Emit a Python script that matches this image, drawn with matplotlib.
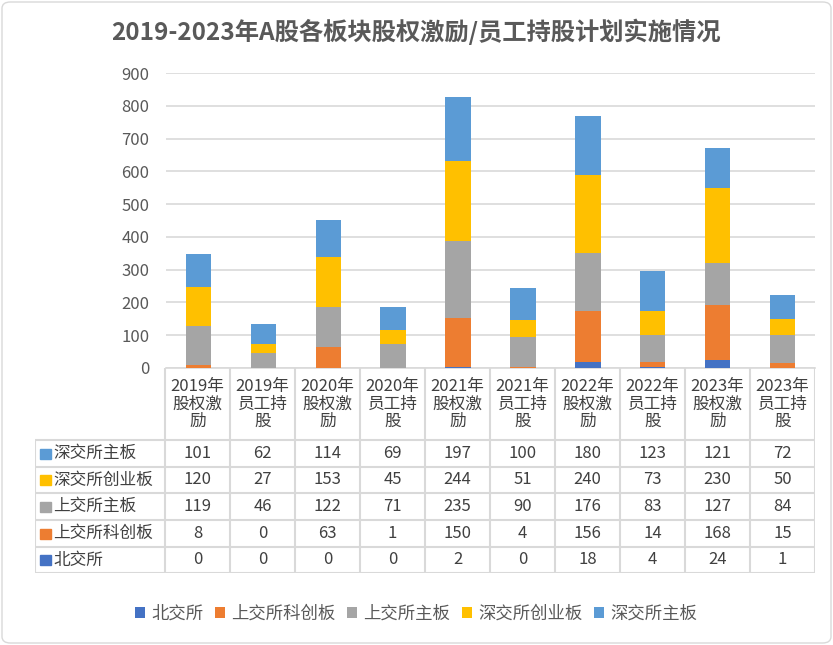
import matplotlib
matplotlib.use("Agg")
import matplotlib.pyplot as plt
from matplotlib.patches import Rectangle, FancyBboxPatch
import numpy as np

plt.rcParams['font.family'] = ['Noto Sans CJK SC', 'DejaVu Sans']

categories = ["2019年\n股权激\n励", "2019年\n员工持\n股", "2020年\n股权激\n励", "2020年\n员工持\n股",
              "2021年\n股权激\n励", "2021年\n员工持\n股", "2022年\n股权激\n励", "2022年\n员工持\n股",
              "2023年\n股权激\n励", "2023年\n员工持\n股"]
bjs = [0, 0, 0, 0, 2, 0, 18, 4, 24, 1]
sh_kcb = [8, 0, 63, 1, 150, 4, 156, 14, 168, 15]
sh_main = [119, 46, 122, 71, 235, 90, 176, 83, 127, 84]
sz_cyb = [120, 27, 153, 45, 244, 51, 240, 73, 230, 50]
sz_main = [101, 62, 114, 69, 197, 100, 180, 123, 121, 72]

series_names = ["北交所", "上交所科创板", "上交所主板", "深交所创业板", "深交所主板"]
series_vals = [bjs, sh_kcb, sh_main, sz_cyb, sz_main]
colors = ["#4472C4", "#ED7D31", "#A5A5A5", "#FFC000", "#5B9BD5"]

W, H = 833, 645
fig = plt.figure(figsize=(W / 100, H / 100), dpi=100)

def fx(px):
    return px / W

def fy(py):
    return 1 - py / H

# chart border
fig.patches.append(FancyBboxPatch((fx(2), fy(643)), fx(829), (641) / H,
                                  boxstyle="round,pad=0,rounding_size=0.01",
                                  transform=fig.transFigure, fill=False,
                                  edgecolor="#D9D9D9", linewidth=1.0))

# bar axes
left, right, top, bottom = 166, 815, 73, 368
ax = fig.add_axes([fx(left), fy(bottom), fx(right - left), (bottom - top) / H])
n = len(categories)
x = np.arange(n)
base = np.zeros(n)
for name, vals, c in zip(series_names, series_vals, colors):
    ax.bar(x, vals, bottom=base, width=0.39, color=c, label=name, zorder=3)
    base += np.array(vals)
ax.set_xlim(-0.5, n - 0.5)
ax.set_ylim(0, 900)
ax.set_yticks(range(0, 901, 100))
ax.yaxis.grid(True, color="#D9D9D9", linewidth=1.2, zorder=0)
ax.tick_params(axis='y', length=0, labelsize=12, labelcolor="#595959", pad=12)
ax.set_xticks([])
for s in ["top", "right", "left"]:
    ax.spines[s].set_visible(False)
ax.spines["bottom"].set_color("#D9D9D9")
ax.spines["bottom"].set_linewidth(1.2)

# table axes
tleft = 35
tbottom = 573
tax = fig.add_axes([fx(tleft), fy(tbottom), fx(right - tleft), (tbottom - bottom) / H])
tax.set_xlim(-2.5, n - 0.5)
tax.set_ylim(tbottom, bottom)  # pixel y coords, inverted
tax.axis("off")
lc = "#D9D9D9"
lw = 1.5
row_lines = [440, 467, 493, 520, 547, 573]
for i in range(n + 1):
    tax.plot([i - 0.5, i - 0.5], [bottom, tbottom], color=lc, lw=lw, solid_capstyle="butt")
tax.plot([-2.5, -2.5], [440, tbottom], color=lc, lw=lw, solid_capstyle="butt")
for yl in row_lines:
    tax.plot([-2.5, n - 0.5], [yl, yl], color=lc, lw=lw, solid_capstyle="butt")
for i, cat in enumerate(categories):
    tax.text(i, 404, cat, ha="center", va="center", fontsize=12, color="#404040", linespacing=1.05)
rows = list(zip(series_names, series_vals, colors))[::-1]
for r, (name, vals, c) in enumerate(rows):
    yc = (row_lines[r] + row_lines[r + 1]) / 2
    tax.add_patch(Rectangle((-2.42, yc - 5), 0.16, 10, color=c))
    tax.text(-2.22, yc, name, ha="left", va="center", fontsize=12, color="#404040")
    for i, v in enumerate(vals):
        tax.text(i, yc, str(v), ha="center", va="center", fontsize=12, color="#404040")

# legend
handles, labels = ax.get_legend_handles_labels()
fig.legend(handles, labels, loc="center", bbox_to_anchor=(fx(416), fy(614)), ncol=5,
           frameon=False, fontsize=12.5, handlelength=0.6, handleheight=0.6,
           handletextpad=0.35, columnspacing=0.65, labelcolor="#595959")

fig.text(fx(416), fy(32), "2019-2023年A股各板块股权激励/员工持股计划实施情况", ha="center", va="center",
         fontsize=17.5, fontweight="bold", color="#595959")

fig.savefig("out.png", dpi=100)
